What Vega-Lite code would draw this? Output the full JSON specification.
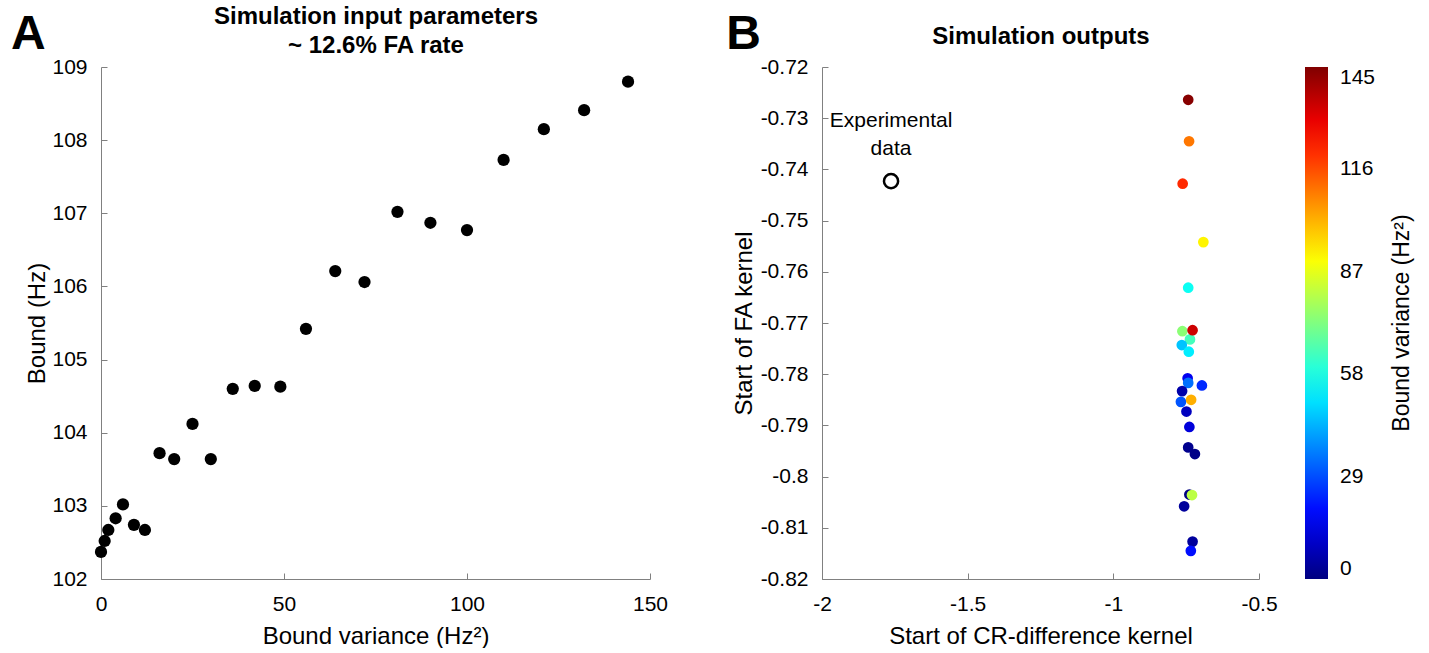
{
  "$schema": "https://vega.github.io/schema/vega-lite/v6.json",
  "background": "white",
  "padding": {"left": 10, "top": 4, "right": 0, "bottom": 0},
  "spacing": 58,
  "config": {
    "font": "Liberation Sans",
    "view": {"stroke": null},
    "axis": {
      "grid": false,
      "domainColor": "#808080",
      "tickColor": "#808080",
      "tickSize": -6,
      "labelFlush": false,
      "labelColor": "black",
      "titleColor": "black",
      "labelFont": "Liberation Sans",
      "titleFont": "Liberation Sans",
      "labelFontSize": 21,
      "titleFontSize": 24,
      "titleFontWeight": "normal",
      "labelPadding": 20
    },
    "legend": {
      "labelFont": "Liberation Sans",
      "titleFont": "Liberation Sans",
      "labelFontSize": 21,
      "titleFontSize": 23,
      "titleFontWeight": "normal",
      "labelColor": "black",
      "titleColor": "black"
    }
  },
  "hconcat": [
    {
      "width": 549,
      "height": 512,
      "title": {"text": "A", "anchor": "start", "frame": "bounds", "fontSize": 48, "fontWeight": "bold", "font": "Liberation Sans", "dx": -15, "dy": 59},
      "data": {"values": [
        {"variance": 0, "bound": 102.37},
        {"variance": 1, "bound": 102.52},
        {"variance": 2, "bound": 102.67},
        {"variance": 4, "bound": 102.83},
        {"variance": 6, "bound": 103.02},
        {"variance": 9, "bound": 102.74},
        {"variance": 12, "bound": 102.67},
        {"variance": 16, "bound": 103.72},
        {"variance": 20, "bound": 103.64},
        {"variance": 25, "bound": 104.12},
        {"variance": 30, "bound": 103.64},
        {"variance": 36, "bound": 104.60},
        {"variance": 42, "bound": 104.64},
        {"variance": 49, "bound": 104.63},
        {"variance": 56, "bound": 105.42},
        {"variance": 64, "bound": 106.21},
        {"variance": 72, "bound": 106.06},
        {"variance": 81, "bound": 107.02},
        {"variance": 90, "bound": 106.87},
        {"variance": 100, "bound": 106.77},
        {"variance": 110, "bound": 107.73},
        {"variance": 121, "bound": 108.15},
        {"variance": 132, "bound": 108.41},
        {"variance": 144, "bound": 108.80}
      ]},
      "layer": [
        {
          "mark": {"type": "circle", "size": 150, "color": "black", "opacity": 1},
          "encoding": {
            "x": {"field": "variance", "type": "quantitative",
                  "scale": {"domain": [0, 150], "nice": false, "zero": false},
                  "axis": {"title": "Bound variance (Hz²)", "values": [0, 50, 100, 150], "titlePadding": 10}},
            "y": {"field": "bound", "type": "quantitative",
                  "scale": {"domain": [102, 109], "nice": false, "zero": false},
                  "axis": {"title": "Bound (Hz)", "values": [102, 103, 104, 105, 106, 107, 108, 109], "titlePadding": 2}}
          }
        },
        {
          "mark": {"type": "circle", "opacity": 0},
          "encoding": {
            "x": {"field": "variance", "type": "quantitative",
                  "axis": {"orient": "top", "labels": false, "ticks": false, "domain": false,
                           "title": ["Simulation input parameters", "~ 12.6% FA rate"],
                           "titleFontWeight": "bold", "titleFontSize": 24, "titleLineHeight": 29, "titlePadding": 10}}
          }
        }
      ],
      "resolve": {"axis": {"x": "independent"}}
    },
    {
      "width": 437,
      "height": 512,
      "title": {"text": "B", "anchor": "start", "frame": "bounds", "fontSize": 48, "fontWeight": "bold", "font": "Liberation Sans", "dx": -6, "dy": 39},
      "layer": [
        {
          "data": {"values": [
            {"cr": -0.743, "fa": -0.7264, "variance": 144},
            {"cr": -0.740, "fa": -0.7345, "variance": 110},
            {"cr": -0.762, "fa": -0.7428, "variance": 121},
            {"cr": -0.691, "fa": -0.7542, "variance": 92},
            {"cr": -0.743, "fa": -0.7631, "variance": 56},
            {"cr": -0.763, "fa": -0.7716, "variance": 74},
            {"cr": -0.737, "fa": -0.7732, "variance": 64},
            {"cr": -0.728, "fa": -0.7714, "variance": 134},
            {"cr": -0.765, "fa": -0.7743, "variance": 46},
            {"cr": -0.741, "fa": -0.7756, "variance": 52},
            {"cr": -0.745, "fa": -0.7808, "variance": 16},
            {"cr": -0.743, "fa": -0.7817, "variance": 34},
            {"cr": -0.696, "fa": -0.7822, "variance": 24},
            {"cr": -0.764, "fa": -0.7833, "variance": 6},
            {"cr": -0.768, "fa": -0.7854, "variance": 30},
            {"cr": -0.733, "fa": -0.7850, "variance": 102},
            {"cr": -0.749, "fa": -0.7873, "variance": 9},
            {"cr": -0.739, "fa": -0.7903, "variance": 13},
            {"cr": -0.743, "fa": -0.7943, "variance": 2},
            {"cr": -0.720, "fa": -0.7956, "variance": 1},
            {"cr": -0.739, "fa": -0.8035, "variance": 0},
            {"cr": -0.730, "fa": -0.8036, "variance": 81},
            {"cr": -0.757, "fa": -0.8058, "variance": 4},
            {"cr": -0.728, "fa": -0.8127, "variance": 4},
            {"cr": -0.734, "fa": -0.8145, "variance": 20}
          ]},
          "mark": {"type": "circle", "size": 115, "opacity": 1},
          "encoding": {
            "x": {"field": "cr", "type": "quantitative",
                  "scale": {"domain": [-2, -0.5], "nice": false, "zero": false},
                  "axis": {"title": "Start of CR-difference kernel", "values": [-2, -1.5, -1, -0.5], "titlePadding": 10,
                           "labelExpr": "replace(format(datum.value, '.1~f'), '\u2212', '-')"}},
            "y": {"field": "fa", "type": "quantitative",
                  "scale": {"domain": [-0.82, -0.72], "nice": false, "zero": false},
                  "axis": {"title": "Start of FA kernel", "values": [-0.82, -0.81, -0.8, -0.79, -0.78, -0.77, -0.76, -0.75, -0.74, -0.73, -0.72], "titlePadding": 4,
                           "labelExpr": "replace(format(datum.value, '.2~f'), '\u2212', '-')"}},
            "color": {"field": "variance", "type": "quantitative",
                      "scale": {"domain": [0, 18.125, 36.25, 54.375, 72.5, 90.625, 108.75, 126.875, 145],
                                "range": ["#000080", "#0000ff", "#0080ff", "#00ffff", "#80ff80", "#ffff00", "#ff8000", "#ff0000", "#800000"],
                                "interpolate": "rgb"},
                      "legend": {"title": "Bound variance (Hz²)", "values": [0, 29, 58, 87, 116, 145],
                                 "gradientLength": 512, "gradientThickness": 23, "offset": 27,
                                 "titleOrient": "right", "titleAnchor": "middle", "titlePadding": 16, "titleLimit": 600,
                                 "gradientStrokeWidth": 0, "labelOffset": 12,
                                 "encoding": {"title": {"angle": {"value": 270}, "baseline": {"value": "top"}}}}}
          }
        },
        {
          "data": {"values": [{"cr": -1.763, "fa": -0.7423, "label": "Experimental\ndata"}]},
          "mark": {"type": "point", "shape": "circle", "size": 200, "filled": false, "stroke": "black", "strokeWidth": 2.5, "opacity": 1},
          "encoding": {
            "x": {"field": "cr", "type": "quantitative",
                  "axis": {"orient": "top", "labels": false, "ticks": false, "domain": false,
                           "title": "Simulation outputs", "titleFontWeight": "bold", "titleFontSize": 24, "titlePadding": 19}},
            "y": {"field": "fa", "type": "quantitative"}
          }
        },
        {
          "data": {"values": [{"cr": -1.763, "fa": -0.7423, "label": "Experimental\ndata"}]},
          "mark": {"type": "text", "lineBreak": "\n", "fontSize": 21, "lineHeight": 28, "baseline": "bottom", "align": "center", "dy": -50, "color": "black", "font": "Liberation Sans"},
          "encoding": {
            "x": {"field": "cr", "type": "quantitative", "axis": null},
            "y": {"field": "fa", "type": "quantitative"},
            "text": {"field": "label"}
          }
        }
      ],
      "resolve": {"axis": {"x": "independent"}}
    }
  ]
}
